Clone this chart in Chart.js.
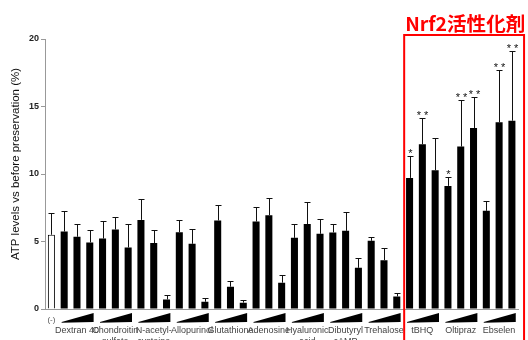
<!DOCTYPE html>
<html>
<head>
<meta charset="utf-8">
<script src="https://cdn.jsdelivr.net/npm/chart.js@4"></script>
<style>
  html, body { margin: 0; padding: 0; background: #fff; }
  #wrap { width: 528px; height: 340px; }
</style>
</head>
<body>
<div id="wrap"><canvas id="atpChart"></canvas></div>
<script>
// group names shown under each wedge (3 doses each)
const groupLabels = [['Dextran 40'], ['Chondroitin', 'sulfate'], ['N-acetyl-', 'cysteine'], ['Allopurinol'],
    ['Glutathione'], ['Adenosine'], ['Hyaluronic', 'acid'], ['Dibutyryl', 'cAMP'], ['Trehalose'],
    ['tBHQ'], ['Oltipraz'], ['Ebselen']];
const controlLabel = '(-)';

// mean values, first is the control, then 3 doses per group
const atpValues = [5.5,
    5.74, 5.35, 4.93,
    5.22, 5.89, 4.56,
    6.6, 4.88, 0.71,
    5.69, 4.83, 0.54,
    6.56, 1.65, 0.47,
    6.48, 6.95, 1.95,
    5.27, 6.29, 5.57,
    5.67, 5.79, 3.05,
    5.05, 3.62, 0.93,
    9.71, 12.2, 10.28,
    9.12, 12.03, 13.41,
    7.27, 13.83, 13.95];

// upper error (SD)
const atpErrors = [1.6,
    1.5, 0.95, 0.9,
    1.3, 0.9, 1.77,
    1.58, 1.0, 0.35,
    0.9, 1.06, 0.27,
    1.13, 0.4, 0.17,
    1.1, 1.3, 0.54,
    1.02, 1.65, 1.06,
    0.66, 1.38, 0.72,
    0.25, 0.91, 0.25,
    1.63, 1.93, 2.37,
    0.69, 3.45, 2.27,
    0.74, 3.85, 5.13];

const stars = ['',
    '', '', '', '', '', '', '', '', '', '', '', '', '', '', '', '', '', '', '', '', '', '', '', '', '', '', '',
    '*', '**', '',
    '*', '**', '**',
    '', '**', '**'];

const yTicks = [0, 5, 10, 15, 20];
const nrf2Title = 'Nrf2活性化剤';
const nrf2FirstGroup = 9;

const yTitle = 'ATP levels vs before preservation (%)';

const labels = [controlLabel];
groupLabels.forEach(g => { labels.push(g.join(' '), g.join(' '), g.join(' ')); });

const extras = {
    id: 'extras',
    afterDatasetsDraw(chart) {
        const ctx = chart.ctx;
        const x = chart.scales.x;
        const y = chart.scales.y;
        const step = x.getPixelForValue(1) - x.getPixelForValue(0);
        ctx.save();

        // error bars
        ctx.strokeStyle = '#111';
        ctx.lineWidth = 1;
        for (let i = 0; i < atpValues.length; i++) {
            const px = Math.round(x.getPixelForValue(i)) + 0.5;
            const top = y.getPixelForValue(atpValues[i]);
            const cap = Math.round(y.getPixelForValue(atpValues[i] + atpErrors[i])) + 0.5;
            ctx.beginPath();
            ctx.moveTo(px, top);
            ctx.lineTo(px, cap);
            ctx.moveTo(px - 3, cap);
            ctx.lineTo(px + 3, cap);
            ctx.stroke();
            if (stars[i]) {
                ctx.fillStyle = '#111';
                ctx.font = '11px "Liberation Sans", Arial, sans-serif';
                ctx.textAlign = 'center';
                ctx.textBaseline = 'bottom';
                ctx.fillText(stars[i].split('').join(' '), px, cap + 3);
            }
        }

        // dose wedges
        const base = y.bottom;
        ctx.fillStyle = '#000';
        for (let g = 0; g < groupLabels.length; g++) {
            const first = 1 + g * 3;
            const l = x.getPixelForValue(first) - step * 0.2;
            const r = x.getPixelForValue(first + 2) + step * 0.3;
            ctx.beginPath();
            ctx.moveTo(l, base + 13);
            ctx.lineTo(r, base + 4);
            ctx.lineTo(r, base + 13);
            ctx.lineTo(l, base + 13.8);
            ctx.closePath();
            ctx.fill();
        }

        // control label
        ctx.fillStyle = '#555';
        ctx.font = '8px "Liberation Sans", Arial, sans-serif';
        ctx.textAlign = 'center';
        ctx.textBaseline = 'middle';
        ctx.fillText(controlLabel, x.getPixelForValue(0), base + 11);

        // red frame around the Nrf2 activators
        const boxL = x.getPixelForValue(1 + nrf2FirstGroup * 3) - step / 2 + 1;
        const boxR = x.getPixelForValue(atpValues.length - 1) + step * 0.95;
        ctx.strokeStyle = '#ff0000';
        ctx.lineWidth = 2;
        ctx.strokeRect(boxL, 35, boxR - boxL, 320);

        ctx.fillStyle = '#ff0000';
        ctx.font = 'bold 19px "Noto Sans CJK JP", sans-serif';
        ctx.textAlign = 'left';
        ctx.textBaseline = 'alphabetic';
        const w = ctx.measureText(nrf2Title).width;
        ctx.translate(boxL + 1, 31);
        ctx.scale(120 / w, 1);
        ctx.fillText(nrf2Title, 0, 0);
        ctx.setTransform(1, 0, 0, 1, 0, 0);

        // y axis title
        ctx.fillStyle = '#111';
        ctx.font = '11.5px "Liberation Sans", Arial, sans-serif';
        ctx.textAlign = 'center';
        ctx.textBaseline = 'middle';
        ctx.translate(16, 164);
        ctx.rotate(-Math.PI / 2);
        ctx.fillText(yTitle, 0, 0);
        ctx.restore();
    }
};

new Chart(document.getElementById('atpChart'), {
    type: 'bar',
    data: {
        labels: labels,
        datasets: [{
            data: atpValues,
            backgroundColor: atpValues.map((v, i) => i === 0 ? '#fff' : '#000'),
            borderColor: '#000',
            borderWidth: atpValues.map((v, i) => i === 0 ? 1 : 0),
            barPercentage: 0.55,
            categoryPercentage: 1
        }]
    },
    options: {
        responsive: true,
        maintainAspectRatio: false,
        animation: false,
        layout: { padding: { left: 0, right: 7, top: 39, bottom: 0 } },
        plugins: {
            legend: { display: false },
            tooltip: { enabled: false }
        },
        scales: {
            x: {
                grid: { display: false, drawTicks: false },
                border: { display: true, color: '#999' },
                ticks: {
                    autoSkip: false,
                    maxRotation: 0,
                    padding: 16,
                    color: '#444',
                    font: { size: 9, family: '"Liberation Sans", Arial, sans-serif', lineHeight: 1.25 },
                    callback: function (value, index) {
                        if (index > 0 && (index - 1) % 3 === 1) return groupLabels[(index - 1 - 1) / 3];
                        return '';
                    }
                },
                afterFit: s => { s.height = 31; }
            },
            y: {
                min: 0,
                max: 20,
                afterBuildTicks: s => { s.ticks = yTicks.map(v => ({ value: v })); },
                grid: { drawOnChartArea: false, tickLength: 4, color: '#999' },
                border: { color: '#999' },
                ticks: {
                    padding: 2,
                    color: '#222',
                    font: { size: 9, weight: 'bold', family: '"Liberation Sans", Arial, sans-serif' }
                },
                afterFit: s => { s.width = 45; }
            }
        }
    },
    plugins: [extras]
});
</script>
</body>
</html>
